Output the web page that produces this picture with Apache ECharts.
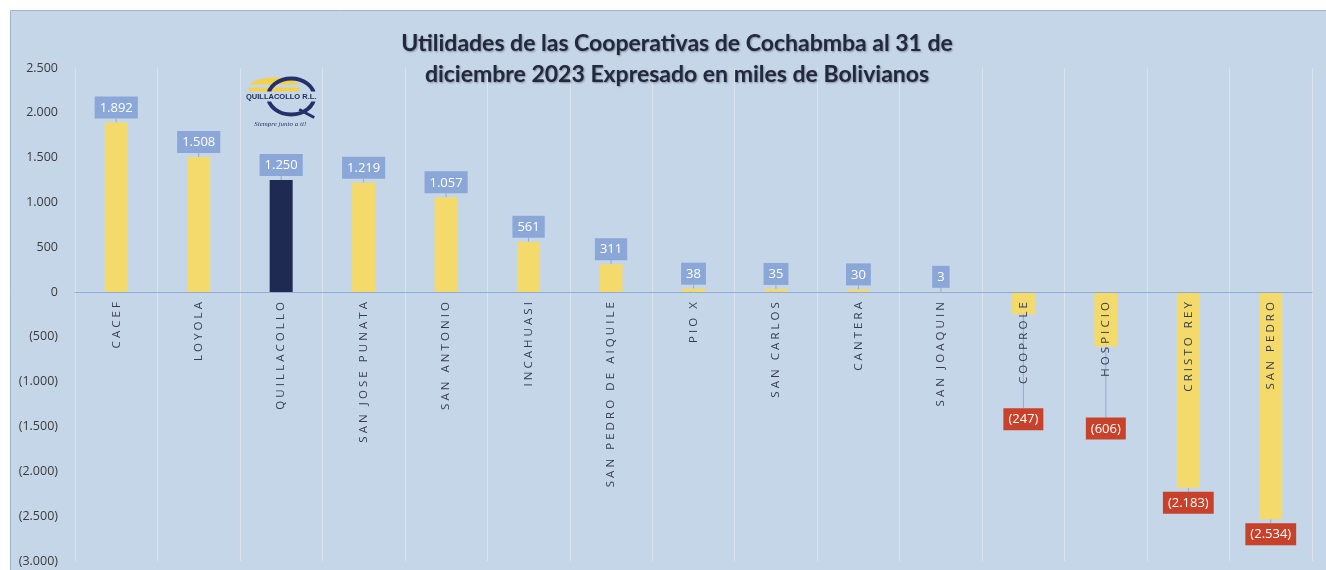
<!DOCTYPE html>
<html>
<head>
<meta charset="utf-8">
<script src="https://cdn.jsdelivr.net/npm/echarts@6/dist/echarts.min.js"></script>
<style>
html,body{margin:0;padding:0;background:#ffffff;}
#chart{width:1326px;height:570px;}
</style>
</head>
<body>
<div id="chart"></div>
<script>
const categories = ['CACEF','LOYOLA','QUILLACOLLO','SAN JOSE PUNATA','SAN ANTONIO','INCAHUASI','SAN PEDRO DE AIQUILE','PIO X','SAN CARLOS','CANTERA','SAN JOAQUIN','COOPROLE','HOSPICIO','CRISTO REY','SAN PEDRO'];
const values = [1892,1508,1250,1219,1057,561,311,38,35,30,3,-247,-606,-2183,-2534];
const highlight = 'QUILLACOLLO';
const titleLines = ['Utilidades de las Cooperativas de Cochabmba al 31 de','diciembre 2023 Expresado en miles de Bolivianos'];

function fmt(v){
  const s = String(Math.abs(v)).replace(/\B(?=(\d{3})+(?!\d))/g,'.');
  return v < 0 ? '(' + s + ')' : s;
}
function spaced(t){ return t.split('').join('\u2009\u200A'); }

const chart = echarts.init(document.getElementById('chart'));
const data = values.map((v,i)=>({
  value: v,
  itemStyle: {color: categories[i]===highlight ? '#1f2a52' : '#f4da6a'},
  label: v < 0 ? {backgroundColor:'#c8412b'} : {}
}));

const gridTop = 68, gridBottom = 9, H = 570;
const yMin = -3000, yMax = 2500;
const zeroOffset = -((H - gridBottom) - (gridTop + (yMax / (yMax - yMin)) * (H - gridBottom - gridTop)));

chart.setOption({
  animation:false,
  graphic:[
    {type:'rect', z:-10, shape:{x:10.5,y:10.5,width:1330,height:570}, style:{fill:'#c6d6e9', stroke:'#9fb3cd', lineWidth:1}},
    // logo
    {type:'group', left:246, top:76, z:10, children:[
      {type:'ellipse', shape:{cx:27,cy:12,rx:26,ry:10}, style:{fill:'#f2d24a'}},
      {type:'rect', shape:{x:0,y:9,width:70,height:3}, style:{fill:'#c6d6e9'}},
      {type:'ellipse', shape:{cx:44,cy:21,rx:23,ry:18}, style:{fill:'none', stroke:'#24306a', lineWidth:4}},
      {type:'rect', shape:{x:0,y:16,width:70,height:10}, style:{fill:'#c6d6e9'}},
      {type:'text', style:{x:34,y:21,text:'QUILLACOLLO R.L.', fill:'#1f2a52', font:'bold 7.5px Liberation Sans', align:'center', verticalAlign:'middle'}},
      {type:'line', shape:{x1:52,y1:34,x2:67,y2:42}, style:{stroke:'#24306a', lineWidth:3}},
      {type:'text', style:{x:33,y:49,text:'Siempre junto a ti!', fill:'#2a3560', font:'italic 7px Liberation Serif', align:'center', verticalAlign:'middle'}}
    ]}
  ],
  title:{
    text: titleLines.join('\n'),
    left: 672, top: 23, textAlign:'center',
    textStyle:{fontFamily:'Lato', fontWeight:'bold', fontSize:23, lineHeight:31, color:'#22283f',
      textShadowColor:'rgba(0,0,0,0.35)', textShadowBlur:2, textShadowOffsetX:1, textShadowOffsetY:1}
  },
  grid:{left:75, right:14, top:gridTop, bottom:gridBottom, containLabel:false, outerBoundsMode:'none'},
  xAxis:{
    type:'category', data:categories, z:5, position:'bottom', offset: zeroOffset,
    axisLine:{show:true, onZero:false, lineStyle:{color:'#8fabd6', width:1}},
    axisTick:{show:false},
    axisLabel:{rotate:90, interval:0, margin:10, color:'#363d4e', fontFamily:'Open Sans', fontSize:11.5, formatter:spaced},
    splitLine:{show:true, lineStyle:{color:'rgba(255,255,255,0.35)', width:1}}
  },
  yAxis:{
    type:'value', min:yMin, max:yMax, interval:500,
    axisLine:{show:false}, axisTick:{show:false},
    splitLine:{show:false},
    axisLabel:{formatter:fmt, color:'#3a3a3a', fontFamily:'Open Sans', fontSize:12.5, margin:17}
  },
  series:[{
    type:'bar', data:data, barWidth:23,
    label:{show:true, position:'outside', distance:4, formatter:p=>fmt(p.value),
      color:'#ffffff', fontFamily:'Open Sans', fontSize:13, backgroundColor:'#8aa7d8', padding:[5,5,4,5]},
    labelLine:{show:true, lineStyle:{color:'#8fabd6', width:1}},
    labelLayout:function(p){
      if(p.dataIndex===11) return {dy:90};
      if(p.dataIndex===12) return {dy:67};
      return {};
    }
  }]
});
</script>
</body>
</html>
